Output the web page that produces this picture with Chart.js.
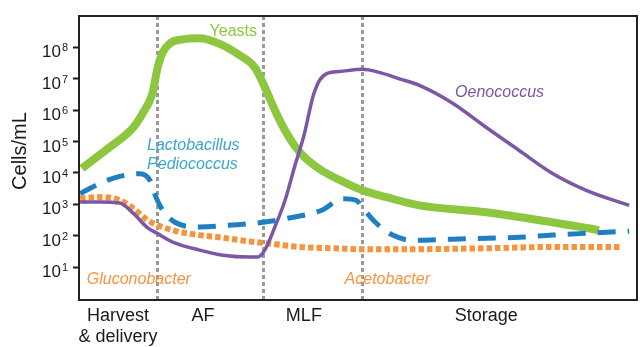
<!DOCTYPE html>
<html>
<head>
<meta charset="utf-8">
<script src="https://cdn.jsdelivr.net/npm/chart.js@4.4.0/dist/chart.umd.min.js"></script>
<style>
  html, body { margin: 0; padding: 0; background: #fff; }
</style>
</head>
<body>
<canvas id="chart" width="640" height="347"></canvas>
<script>
// Time runs 0..100 (arbitrary units across the winemaking stages)
const yeastX = [0.5, 5.5, 9.7, 11.4, 13.1, 14.1, 15.0, 16.3, 18.6, 21.6, 25.2, 28.8, 31.5, 33.3, 35.1, 36.9, 38.6, 40.4, 43.5, 45.8, 50.8, 55.1, 61.0, 73.0, 84.8, 93.2];
const yeastY = [1.4e4, 6.6e4, 2.8e5, 7.9e5, 3.2e6, 2.3e7, 6.9e7, 1.35e8, 1.8e8, 1.95e8, 1.3e8, 5.6e7, 2.3e7, 5.4e6, 1e6, 2.3e5, 7.6e4, 3.2e4, 1.2e4, 7.2e3, 2.8e3, 1.7e3, 930, 560, 270, 150];

const laboX = [0.2, 3.8, 7.3, 10.9, 12.7, 13.8, 15.0, 17.2, 21.6, 27.5, 31.5, 37.4, 43.5, 47.2, 49.7, 50.8, 53.3, 56.2, 59.7, 66.9, 73.0, 78.9, 84.8, 90.9, 98.6];
const laboY = [2.2e3, 4.7e3, 7.8e3, 9.5e3, 5.9e3, 1.7e3, 650, 270, 190, 220, 250, 360, 650, 1.5e3, 1.35e3, 790, 250, 105, 72, 78, 83, 89, 105, 120, 140];

const aceticX = [0.2, 3.8, 7.3, 9.7, 12.2, 14.0, 16.8, 21.6, 25.2, 31.5, 33.6, 39.5, 45.8, 51.5, 57.4, 73.0, 84.8, 97.3];
const aceticY = [1.55e3, 1.7e3, 1.35e3, 760, 320, 220, 150, 105, 89, 63, 58, 44, 40, 37, 37, 40, 44, 44];

const oenoX = [0.2, 3.8, 7.3, 9.7, 12.2, 14.0, 16.8, 21.6, 25.8, 30.6, 32.0, 33.3, 35.1, 36.9, 38.6, 40.4, 41.9, 43.1, 44.5, 46.7, 50.8, 53.8, 57.4, 61.0, 66.9, 73.0, 78.9, 84.8, 90.9, 98.6];
const oenoY = [1.2e3, 1.2e3, 1.1e3, 525, 186, 120, 63, 35, 24, 21, 21, 35, 190, 1.3e3, 1.5e4, 1.8e5, 2.6e6, 8.9e6, 1.5e7, 1.7e7, 2e7, 1.6e7, 1e7, 6.2e6, 1.7e6, 2.8e5, 5.2e4, 9.8e3, 2.8e3, 930];

const phaseLabels = [['Harvest', '& delivery'], 'AF', 'MLF', 'Storage'];
const phaseLabelX = [7.0, 22.2, 40.3, 73.0];
const phaseBounds = [14.0, 32.9, 50.8];
const yExponents = [1, 2, 3, 4, 5, 6, 7, 8];

const FONT = "'Liberation Sans', Arial, Helvetica, sans-serif";

// in-plot labels: text, x, y (data units), colour, italic
const notes = [
    { text: 'Yeasts', x: 23.4, y: 3.2e8, color: '#8dc63f', italic: false },
    { text: 'Lactobacillus', x: 12.2, y: 7.6e4, color: '#3aa7cf', italic: true },
    { text: 'Pediococcus', x: 12.2, y: 1.9e4, color: '#3aa7cf', italic: true },
    { text: 'Oenococcus', x: 67.4, y: 3.7e6, color: '#7b57a5', italic: true },
    { text: 'Gluconobacter', x: 1.4, y: 3.9, color: '#f7933d', italic: true },
    { text: 'Acetobacter', x: 47.6, y: 3.9, color: '#f7933d', italic: true }
];

function pts(xs, ys) {
    return xs.map((x, i) => ({ x: x, y: ys[i] }));
}

const decorations = {
    id: 'decorations',
    beforeDatasetsDraw(chart) {
        const { ctx, chartArea, scales } = chart;
        ctx.save();
        ctx.strokeStyle = '#999';
        ctx.lineWidth = 3;
        ctx.setLineDash([4, 3]);
        phaseBounds.forEach(b => {
            const px = Math.round(scales.x.getPixelForValue(b)) + 0.5;
            ctx.beginPath();
            ctx.moveTo(px, chartArea.top);
            ctx.lineTo(px, chartArea.bottom);
            ctx.stroke();
        });
        ctx.restore();
    },
    afterDatasetsDraw(chart) {
        const { ctx, chartArea } = chart;
        ctx.save();
        ctx.strokeStyle = '#222';
        ctx.lineWidth = 2;
        ctx.strokeRect(chartArea.left, chartArea.top, chartArea.right - chartArea.left, chartArea.bottom - chartArea.top);
        ctx.restore();
    },
    afterDraw(chart) {
        const { ctx, scales } = chart;
        ctx.save();
        ctx.textBaseline = 'middle';
        ctx.textAlign = 'left';
        notes.forEach(n => {
            ctx.font = (n.italic ? 'italic ' : '') + '16px ' + FONT;
            ctx.fillStyle = n.color;
            ctx.fillText(n.text, scales.x.getPixelForValue(n.x), scales.y.getPixelForValue(n.y));
        });

        // y tick labels as 10 with superscript exponent
        ctx.fillStyle = '#1a1a1a';
        ctx.textBaseline = 'alphabetic';
        scales.y.ticks.forEach(t => {
            const e = String(Math.round(Math.log10(t.value)));
            const py = scales.y.getPixelForValue(t.value);
            ctx.font = '11px ' + FONT;
            const we = ctx.measureText(e).width;
            ctx.font = '17px ' + FONT;
            const wb = ctx.measureText('10').width;
            const x0 = 68 - we - wb - 1;
            ctx.fillText('10', x0, py + 10);
            ctx.font = '11px ' + FONT;
            ctx.fillText(e, x0 + wb + 1, py + 4);
        });

        // y axis title
        ctx.translate(20, 151);
        ctx.rotate(-Math.PI / 2);
        ctx.textAlign = 'center';
        ctx.textBaseline = 'middle';
        ctx.font = '20px ' + FONT;
        ctx.fillText('Cells/mL', 0, 0);
        ctx.restore();
    }
};

new Chart(document.getElementById('chart'), {
    type: 'line',
    data: {
        datasets: [
            {
                label: 'Oenococcus',
                data: pts(oenoX, oenoY),
                borderColor: '#7b57a5',
                borderWidth: 3.5
            },
            {
                label: 'Lactobacillus / Pediococcus',
                data: pts(laboX, laboY),
                borderColor: '#1f7fc1',
                borderWidth: 5,
                borderDash: [18, 12]
            },
            {
                label: 'Gluconobacter / Acetobacter',
                data: pts(aceticX, aceticY),
                borderColor: '#f7933d',
                borderWidth: 6,
                borderDash: [5.5, 3]
            },
            {
                label: 'Yeasts',
                data: pts(yeastX, yeastY),
                borderColor: '#8dc63f',
                borderWidth: 8
            }
        ]
    },
    options: {
        responsive: false,
        animation: false,
        layout: { padding: { top: 16, right: 3, left: 0, bottom: 0 } },
        elements: {
            point: { radius: 0 },
            line: { cubicInterpolationMode: 'monotone', fill: false, borderCapStyle: 'butt' }
        },
        plugins: {
            legend: { display: false },
            tooltip: { enabled: false }
        },
        scales: {
            x: {
                type: 'linear',
                min: 0,
                max: 100,
                afterBuildTicks: s => { s.ticks = phaseLabelX.map(v => ({ value: v })); },
                afterFit: s => { s.height = 47; },
                grid: { display: false, drawTicks: false },
                border: { display: false },
                ticks: {
                    autoSkip: false,
                    maxRotation: 0,
                    padding: 5,
                    color: '#1a1a1a',
                    font: { family: FONT, size: 18 },
                    callback: (v, i) => phaseLabels[i]
                }
            },
            y: {
                type: 'logarithmic',
                min: 0.9,
                max: 1e9,
                afterBuildTicks: s => { s.ticks = yExponents.map(e => ({ value: Math.pow(10, e) })); },
                afterFit: s => { s.width = 79; },
                grid: {
                    drawOnChartArea: false,
                    drawTicks: true,
                    tickLength: 6,
                    tickWidth: 2,
                    tickColor: '#1a1a1a'
                },
                border: { display: false },
                ticks: {
                    padding: 0,
                    callback: () => ''
                }
            }
        }
    },
    plugins: [decorations]
});
</script>
</body>
</html>
